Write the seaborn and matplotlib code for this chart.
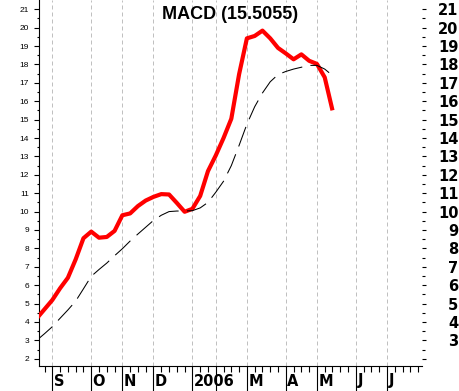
import matplotlib
matplotlib.use("Agg")
import matplotlib.pyplot as plt
import seaborn as sns
import pandas as pd
from matplotlib.ticker import FixedLocator, FixedFormatter

# ---- data (weekly points, week 0 = start of September) ----
weeks = list(range(-2, 37))
macd = [4.19, 4.69, 5.19, 5.83, 6.4, 7.4, 8.55, 8.91, 8.58, 8.62, 8.95, 9.8, 9.9,
        10.3, 10.6, 10.8, 10.95, 10.93, 10.47, 9.99, 10.15, 10.85, 12.2, 13.05, 14.0,
        15.05, 17.47, 19.42, 19.55, 19.84, 19.42, 18.9, 18.6, 18.28, 18.55, 18.2,
        18.03, 17.3, 15.5055]
signal = [3.0, 3.36, 3.74, 4.2, 4.65, 5.13, 5.8, 6.48, 6.85, 7.2, 7.6, 7.98, 8.4,
          8.78, 9.15, 9.52, 9.8, 10.0, 10.03, 10.03, 10.05, 10.2, 10.5, 11.05, 11.65,
          12.5, 13.6, 14.75, 15.7, 16.45, 17.06, 17.45, 17.62, 17.75, 17.85, 17.95,
          17.95, 17.75, 17.4]
month_weeks = [0, 5, 9, 13, 18, 21, 25, 30, 34, 39, 43]
month_labels = ["S", "O", "N", "D", "2006", "", "M", "A", "M", "J", "J"]
week_ticks = list(range(-1, 48))
left_yticks = list(range(2, 22))
right_yticks = list(range(2, 22))
right_ylabels = [""] + [str(v) for v in range(3, 22)]
title = "MACD (15.5055)"

df = pd.DataFrame({"week": weeks, "macd": macd, "signal": signal})

sns.set_style("white")
plt.rcParams["font.family"] = ["DejaVu Sans"]
plt.rcParams.update({"text.color": "black", "xtick.color": "black",
                     "ytick.color": "black", "axes.edgecolor": "black",
                     "xtick.labelcolor": "black", "ytick.labelcolor": "black"})

fig = plt.figure(figsize=(4.6, 3.91), dpi=100)
ax = fig.add_axes([39 / 460, 25 / 391, 383 / 460, 366 / 391])

sns.lineplot(data=df, x="week", y="macd", ax=ax, color="#ff0000", linewidth=3.0,
             zorder=3, solid_capstyle="butt")
sns.lineplot(data=df, x="week", y="signal", ax=ax, color="black", linewidth=0.75,
             linestyle=(0, (20, 8)), zorder=4)

ax.set_xlim(-1.71, 47.5)
ax.set_ylim(1.603, 21.506)
ax.set_xlabel("")
ax.set_ylabel("")

for s in ["top", "right"]:
    ax.spines[s].set_visible(False)
for s in ["left", "bottom"]:
    ax.spines[s].set_color("black")
    ax.spines[s].set_linewidth(0.8)

# x axis: month ticks (long) and weekly minor ticks
ax.xaxis.set_major_locator(FixedLocator(month_weeks))
ax.xaxis.set_minor_locator(FixedLocator([w for w in week_ticks if w not in month_weeks]))
ax.tick_params(axis="x", which="major", direction="out", length=18, width=0.8,
               color="black", bottom=True, labelbottom=False)
ax.tick_params(axis="x", which="minor", direction="out", length=4, width=0.8,
               color="black", bottom=True)
ax.xaxis.grid(True, which="major", color="#c0c0c0", linestyle=(0, (4, 3)),
              linewidth=0.72)
ax.yaxis.grid(False)
ax.set_axisbelow(True)

for pos, lab in zip(month_weeks, month_labels):
    ax.annotate(lab, xy=(pos, 0), xycoords=("data", "axes fraction"),
                xytext=(1.5, -15), textcoords="offset pixels", ha="left",
                va="center", fontsize=10.5, fontweight="bold", color="black",
                family="DejaVu Sans", annotation_clip=False)

# left y axis: small labels
ax.yaxis.set_major_locator(FixedLocator(left_yticks))
ax.yaxis.set_minor_locator(FixedLocator([v + 0.5 for v in left_yticks[:-1]]))
ax.tick_params(axis="y", which="major", direction="out", length=3.6, width=0.8,
               color="black", left=True, labelsize=6, pad=3.5,
               labelcolor="black", labelfontfamily="Liberation Sans")
ax.tick_params(axis="y", which="minor", direction="out", length=1.8, width=0.8,
               color="black", left=True)

# right y axis: big bold labels, no spine
tw = ax.twinx()
tw.set_ylim(ax.get_ylim())
for s in tw.spines.values():
    s.set_visible(False)
tw.yaxis.set_major_locator(FixedLocator(right_yticks))
tw.yaxis.set_major_formatter(FixedFormatter(right_ylabels))
tw.yaxis.set_minor_locator(FixedLocator([v + 0.5 for v in right_yticks[:-1]]))
tw.tick_params(axis="y", which="major", direction="out", length=3.2, width=0.8,
               color="black", right=True, labelsize=10.5, pad=23,
               labelcolor="black")
tw.tick_params(axis="y", which="minor", direction="out", length=2.4, width=0.8,
               color="black", right=True)
plt.setp(tw.get_yticklabels(), ha="right", fontweight="bold", family="DejaVu Sans")

ax.text(0.5, 0.947, title, transform=ax.transAxes, ha="center", va="baseline",
        fontsize=13, fontweight="bold", family="Liberation Sans", color="black",
        zorder=5)

fig.savefig("out.png", dpi=100)
